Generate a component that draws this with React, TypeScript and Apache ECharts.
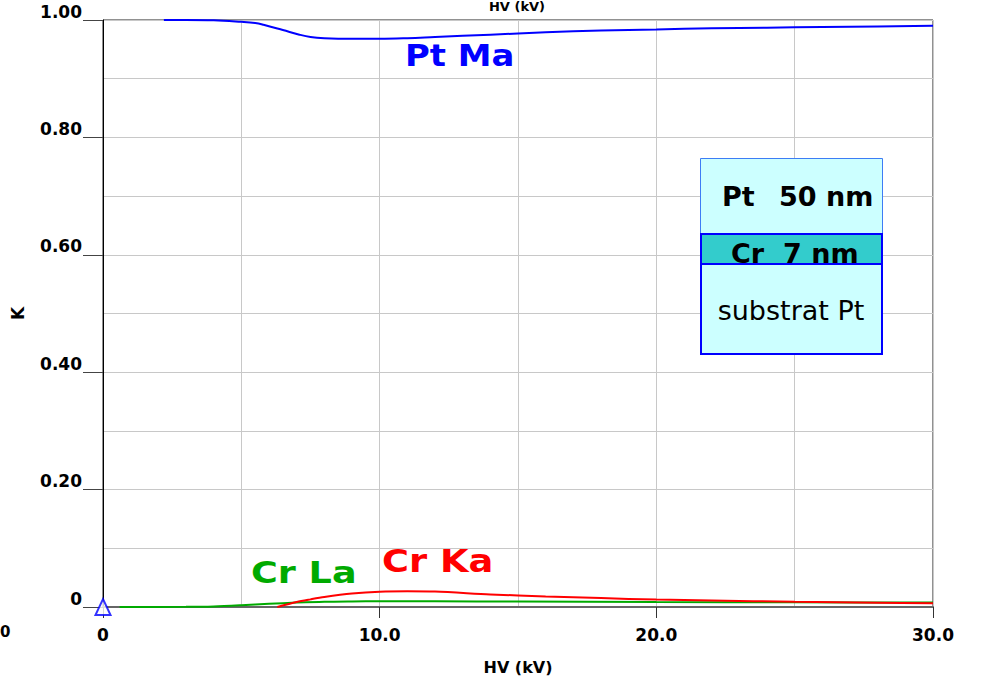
import React, { useEffect, useRef } from "react";
import * as echarts from "echarts";

// Beam energy (kV) and k-ratio samples for each X-ray line
const ptMaHV = [2.2, 3, 4, 5, 5.5, 5.8, 6.5, 7.1, 7.5, 8, 9, 10, 11, 12, 14, 16, 18, 20, 22, 24, 26, 28, 30];
const ptMaK = [1.0, 1.0, 0.9995, 0.997, 0.995, 0.992, 0.983, 0.975, 0.971, 0.969, 0.968, 0.968, 0.969, 0.971, 0.975, 0.979, 0.982, 0.984, 0.986, 0.987, 0.988, 0.989, 0.99];

const crKaHV = [6.3, 7, 7.5, 8, 9, 10, 11, 12, 14, 16, 18, 20, 22, 25, 28, 30];
const crKaK = [0, 0.0085, 0.013, 0.017, 0.0228, 0.026, 0.0268, 0.0262, 0.0215, 0.0178, 0.0152, 0.0126, 0.0112, 0.0088, 0.0072, 0.0063];

const crLaHV = [0.6, 3, 4, 5, 6, 7, 8, 9, 10, 12, 15, 20, 25, 30];
const crLaK = [0, 0.0003, 0.001, 0.003, 0.0055, 0.0075, 0.009, 0.0095, 0.0097, 0.0097, 0.0093, 0.0085, 0.008, 0.0075];

// Marker placed at the origin
const originPoint = [0, 0];

// Layer stack of the sample
const layerTop = ["Pt", "50 nm"];
const layerMid = ["Cr", "7 nm"];
const layerSub = "substrat Pt";

const zip = (xs: number[], ys: number[]) => xs.map((x, i) => [x, ys[i]]);

const FONT = "'DejaVu Sans', sans-serif";

// top-aligned text whose baseline lands on `baseline`
const topFor = (baseline: number, size: number) => baseline - 0.9 * size;

export default function App() {
  const ref = useRef<HTMLDivElement>(null);

  useEffect(() => {
    document.body.style.margin = "0";
    if (!ref.current) return;
    const chart = echarts.init(ref.current, undefined, { renderer: "svg" });

    const lineStyleBase = { width: 2 };

    chart.setOption({
      animation: false,
      backgroundColor: "#ffffff",
      grid: {
        left: 103,
        right: 48,
        top: 20,
        bottom: 72,
        containLabel: false,
        outerBoundsMode: "none",
        show: true,
        borderColor: "#222222",
        borderWidth: 1,
        backgroundColor: "transparent",
      },
      xAxis: {
        type: "value",
        min: 0,
        max: 30,
        interval: 10,
        name: "HV (kV)",
        nameLocation: "middle",
        nameGap: 52,
        nameTextStyle: { fontFamily: FONT, fontWeight: "bold", fontSize: 16, color: "#000" },
        axisLine: { show: true, onZero: false, lineStyle: { color: "#666666", width: 2 } },
        axisTick: { show: true, length: 11, lineStyle: { color: "#333333", width: 1 } },
        axisLabel: {
          margin: 19,
          fontFamily: FONT,
          fontWeight: "bold",
          fontSize: 17,
          color: "#000",
          formatter: (v: number) => (v === 0 ? "0" : v.toFixed(1)),
        },
        splitLine: { show: true, lineStyle: { color: "#c8c8c8", width: 1 } },
        minorTick: { show: false, splitNumber: 2 },
        minorSplitLine: { show: true, lineStyle: { color: "#c8c8c8", width: 1 } },
      },
      yAxis: {
        type: "value",
        min: 0,
        max: 1,
        interval: 0.2,
        name: "K",
        nameLocation: "middle",
        nameGap: 77,
        nameTextStyle: { fontFamily: FONT, fontWeight: "bold", fontSize: 17, color: "#000" },
        axisLine: { show: true, lineStyle: { color: "#000000", width: 1 } },
        axisTick: { show: true, length: 20, lineStyle: { color: "#444444", width: 1 } },
        axisLabel: {
          margin: 21,
          verticalAlign: "bottom",
          fontFamily: FONT,
          fontWeight: "bold",
          fontSize: 17,
          color: "#000",
          formatter: (v: number) => (v === 0 ? "0" : v.toFixed(2)),
        },
        splitLine: { show: true, lineStyle: { color: "#c8c8c8", width: 1 } },
        minorTick: { show: false, splitNumber: 2 },
        minorSplitLine: { show: true, lineStyle: { color: "#c8c8c8", width: 1 } },
      },
      series: [
        {
          name: "Pt Ma",
          type: "line",
          data: zip(ptMaHV, ptMaK),
          smooth: 0.4,
          showSymbol: false,
          clip: false,
          lineStyle: { ...lineStyleBase, color: "#0000ff" },
          itemStyle: { color: "#0000ff" },
          z: 3,
        },
        {
          name: "Cr La",
          type: "line",
          data: zip(crLaHV, crLaK),
          smooth: 0.3,
          showSymbol: false,
          clip: false,
          lineStyle: { ...lineStyleBase, color: "#00aa00" },
          itemStyle: { color: "#00aa00" },
          z: 3,
        },
        {
          name: "Cr Ka",
          type: "line",
          data: zip(crKaHV, crKaK),
          smooth: 0.3,
          showSymbol: false,
          clip: false,
          lineStyle: { ...lineStyleBase, color: "#ff0000" },
          itemStyle: { color: "#ff0000" },
          z: 4,
        },
        {
          type: "scatter",
          data: [originPoint],
          symbol: "triangle",
          symbolSize: [15, 16],
          clip: false,
          itemStyle: { color: "#ffffff", borderColor: "#0000ff", borderWidth: 2 },
          z: 5,
        },
      ],
      graphic: [
        // axis texts at the page edges
        {
          type: "text",
          x: 517,
          y: 0,
          style: { text: "HV (kV)", font: `bold 13px ${FONT}`, fill: "#000", align: "center", verticalAlign: "top" },
        },
        {
          type: "text",
          x: 0,
          y: 632,
          style: { text: "0", font: `bold 15px ${FONT}`, fill: "#000", align: "left", verticalAlign: "middle" },
        },
        // curve labels
        {
          type: "text",
          x: 405,
          y: topFor(68, 30),
          scaleX: 1.13,
          style: { text: "Pt Ma", font: `bold 30px ${FONT}`, fill: "#0000ff", align: "left", verticalAlign: "top" },
        },
        {
          type: "text",
          x: 251,
          y: topFor(584.5, 31),
          scaleX: 1.18,
          style: { text: "Cr La", font: `bold 31px ${FONT}`, fill: "#00aa00", align: "left", verticalAlign: "top" },
        },
        {
          type: "text",
          x: 382,
          y: topFor(574, 32),
          scaleX: 1.15,
          style: { text: "Cr Ka", font: `bold 32px ${FONT}`, fill: "#ff0000", align: "left", verticalAlign: "top" },
        },
        // layer stack inset
        {
          type: "group",
          z: 10,
          children: [
            {
              type: "rect",
              shape: { x: 700.5, y: 158.5, width: 182, height: 76 },
              style: { fill: "#ccffff", stroke: "#3d7cf5", lineWidth: 1 },
              z: 1,
            },
            {
              type: "text",
              x: 722,
              y: topFor(207, 27),
              style: { text: layerTop[0], font: `bold 27px ${FONT}`, fill: "#000", verticalAlign: "top" },
              z: 2,
            },
            {
              type: "text",
              x: 779,
              y: topFor(207, 27),
              style: { text: layerTop[1], font: `bold 27px ${FONT}`, fill: "#000", verticalAlign: "top" },
              z: 2,
            },
            {
              type: "rect",
              shape: { x: 701, y: 234, width: 181, height: 30 },
              style: { fill: "#33cccc", stroke: "#0000ff", lineWidth: 2 },
              z: 3,
            },
            {
              type: "text",
              x: 731,
              y: topFor(264, 27),
              style: { text: layerMid[0], font: `bold 27px ${FONT}`, fill: "#000", verticalAlign: "top" },
              z: 4,
            },
            {
              type: "text",
              x: 783,
              y: topFor(264, 27),
              style: { text: layerMid[1], font: `bold 27px ${FONT}`, fill: "#000", verticalAlign: "top" },
              z: 4,
            },
            {
              type: "rect",
              shape: { x: 701, y: 264, width: 181, height: 90 },
              style: { fill: "#ccffff", stroke: "#0000ff", lineWidth: 2 },
              z: 5,
            },
            {
              type: "text",
              x: 791,
              y: topFor(321, 27),
              style: { text: layerSub, font: `27px ${FONT}`, fill: "#000", align: "center", verticalAlign: "top" },
              z: 6,
            },
          ],
        },
      ],
    });

    return () => chart.dispose();
  }, []);

  return <div ref={ref} style={{ width: 981, height: 679 }} />;
}
